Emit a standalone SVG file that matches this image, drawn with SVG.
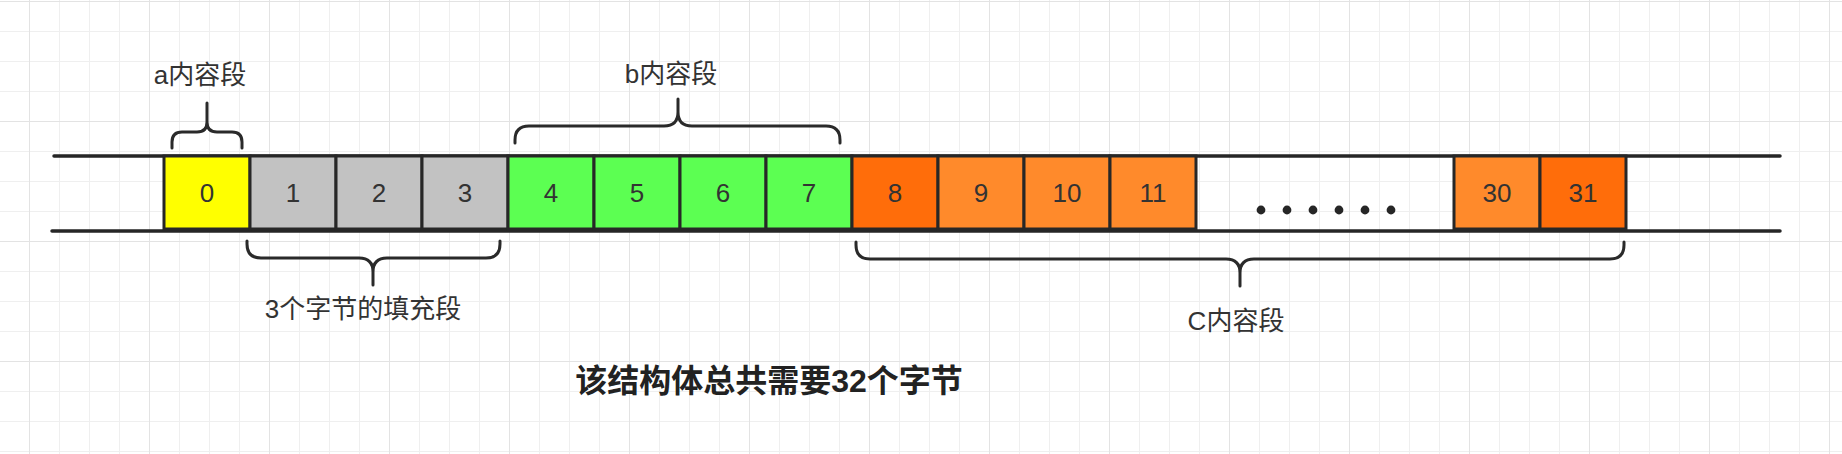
<svg xmlns="http://www.w3.org/2000/svg" width="1842" height="454" viewBox="0 0 1842 454">
<defs>
<pattern id="minor" x="29" y="1" width="30" height="30" patternUnits="userSpaceOnUse">
<path d="M0,0 V30 M0,0 H30" stroke="#efefef" stroke-width="2" fill="none"/>
</pattern>
<pattern id="major" x="29" y="1" width="120" height="120" patternUnits="userSpaceOnUse">
<path d="M0,0 V120 M0,0 H120" stroke="#e3e3e3" stroke-width="2" fill="none"/>
</pattern>
</defs>
<style>
.cell{stroke:#272727;stroke-width:3}
.y{fill:#FFFF00}.g{fill:#C2C2C2}.gr{fill:#5CFF52}.od{fill:#FF6D0A}.ol{fill:#FF8A2B}
.num{font-family:"Liberation Sans","Noto Sans CJK SC",sans-serif;font-size:26px;fill:#333;text-anchor:middle}
.lbl{font-family:"Liberation Sans","Noto Sans CJK SC",sans-serif;font-size:26px;fill:#333;text-anchor:middle}
.title{font-family:"Liberation Sans","Noto Sans CJK SC",sans-serif;font-size:32px;font-weight:bold;fill:#222;text-anchor:middle}
.brace{fill:none;stroke:#2a2a2a;stroke-width:3;stroke-linecap:round;stroke-linejoin:round}
.rail{stroke:#262626;stroke-width:3.5;stroke-linecap:round}
</style>
<rect width="1842" height="454" fill="#ffffff"/>
<rect width="1842" height="454" fill="url(#minor)"/>
<rect width="1842" height="454" fill="url(#major)"/>
<g id="connectors">
<line class="rail" x1="54" y1="156" x2="1780" y2="156"/>
<line class="rail" x1="52" y1="231" x2="1780" y2="231"/>
</g>
<g id="cell0"><rect class="cell y" x="164" y="156" width="86" height="73"/><text class="num" x="207" y="202">0</text></g>
<g id="cell1"><rect class="cell g" x="250" y="156" width="86" height="73"/><text class="num" x="293" y="202">1</text></g>
<g id="cell2"><rect class="cell g" x="336" y="156" width="86" height="73"/><text class="num" x="379" y="202">2</text></g>
<g id="cell3"><rect class="cell g" x="422" y="156" width="86" height="73"/><text class="num" x="465" y="202">3</text></g>
<g id="cell4"><rect class="cell gr" x="508" y="156" width="86" height="73"/><text class="num" x="551" y="202">4</text></g>
<g id="cell5"><rect class="cell gr" x="594" y="156" width="86" height="73"/><text class="num" x="637" y="202">5</text></g>
<g id="cell6"><rect class="cell gr" x="680" y="156" width="86" height="73"/><text class="num" x="723" y="202">6</text></g>
<g id="cell7"><rect class="cell gr" x="766" y="156" width="86" height="73"/><text class="num" x="809" y="202">7</text></g>
<g id="cell8"><rect class="cell od" x="852" y="156" width="86" height="73"/><text class="num" x="895" y="202">8</text></g>
<g id="cell9"><rect class="cell ol" x="938" y="156" width="86" height="73"/><text class="num" x="981" y="202">9</text></g>
<g id="cell10"><rect class="cell ol" x="1024" y="156" width="86" height="73"/><text class="num" x="1067" y="202">10</text></g>
<g id="cell11"><rect class="cell ol" x="1110" y="156" width="86" height="73"/><text class="num" x="1153" y="202">11</text></g>
<g id="ellipsis" fill="#262626">
<circle cx="1261" cy="210" r="4.4"/><circle cx="1287" cy="210" r="4.4"/><circle cx="1313" cy="210" r="4.4"/>
<circle cx="1339" cy="210" r="4.4"/><circle cx="1365" cy="210" r="4.4"/><circle cx="1391" cy="210" r="4.4"/>
</g>
<g id="cell30"><rect class="cell ol" x="1454" y="156" width="86" height="73"/><text class="num" x="1497" y="202">30</text></g>
<g id="cell31"><rect class="cell od" x="1540" y="156" width="86" height="73"/><text class="num" x="1583" y="202">31</text></g>
<g id="brace-a">
<path class="brace" d="M172,148 L172,142 Q172,132 182,132 L197,132 Q207,132 207,122 L207,103 M207,122 Q207,132 217,132 L232,132 Q242,132 242,142 L242,148"/>
<text class="lbl" x="200" y="84">a内容段</text>
</g>
<g id="brace-b">
<path class="brace" d="M515,143 L515,140 Q515,126 529,126 L664,126 Q678,126 678,112 L678,99 M678,112 Q678,126 692,126 L826,126 Q840,126 840,140 L840,143"/>
<text class="lbl" x="671" y="83">b内容段</text>
</g>
<g id="brace-pad">
<path class="brace" d="M247,241 L247,244 Q247,258 261,258 L359,258 Q373,258 373,272 L373,285 M373,272 Q373,258 387,258 L486,258 Q500,258 500,244 L500,241"/>
<text class="lbl" x="363" y="318">3个字节的填充段</text>
</g>
<g id="brace-c">
<path class="brace" d="M856,242 L856,245 Q856,259 870,259 L1226,259 Q1240,259 1240,273 L1240,286 M1240,273 Q1240,259 1254,259 L1610,259 Q1624,259 1624,245 L1624,242"/>
<text class="lbl" x="1236" y="330">C内容段</text>
</g>
<g id="title">
<text class="title" x="769" y="392">该结构体总共需要32个字节</text>
</g>
</svg>
